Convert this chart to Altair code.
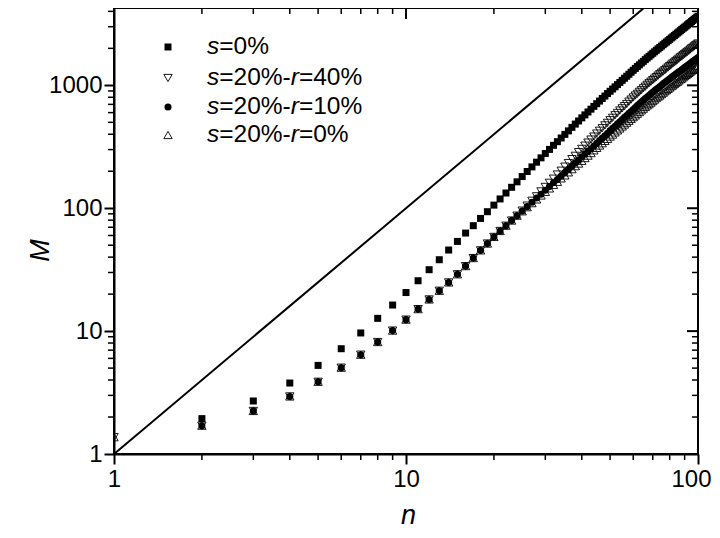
import altair as alt
import pandas as pd

# ---------------- data ----------------
n_from2 = list(range(2, 101))
n_from1 = list(range(1, 101))

m_s0 = [1.94, 2.70, 3.78, 5.26, 7.19, 9.66, 12.7, 16.3, 20.6, 25.7, 31.6, 38.1,
        45.7, 53.7, 62.8, 72.1, 82.6, 93.7, 106, 119, 133, 148, 164, 181,
        199, 217, 237, 257, 279, 301, 325, 348, 373, 399, 426, 455, 484, 513, 544,
        575, 607, 640, 674, 709, 745, 782, 818, 857, 895,
        934, 973, 1014, 1056, 1098, 1142, 1186, 1231, 1278, 1325,
        1373, 1422, 1469, 1520, 1567, 1620, 1670, 1720, 1771, 1823,
        1875, 1928, 1982, 2032, 2087, 2143, 2200, 2251, 2309, 2368,
        2428, 2481, 2542, 2604, 2666, 2722, 2785, 2850, 2915, 2973,
        3039, 3106, 3174, 3234, 3303, 3373, 3444, 3505, 3577, 3650]

star_low = [1.70, 2.24, 2.94, 3.87, 5.04, 6.43, 8.15, 10.1, 12.4, 15.1, 18.1, 21.3,
            24.9, 29.0, 33.8, 39.3, 45.4, 51.6, 58.4, 65.3, 72.1, 79.4, 87.0]

m_r40 = [1.37] + star_low + [
    95.6, 105, 115, 125, 137, 149, 161, 174, 188, 202, 218, 233, 251, 267, 286, 304,
    323, 342, 362, 383, 405, 427, 448, 472, 495, 520,
    544, 571, 596, 624, 650, 677, 705, 737, 766, 796,
    826, 853, 885, 913, 946, 976, 1010, 1040, 1071, 1102,
    1134, 1166, 1199, 1232, 1266, 1294, 1328, 1363, 1398, 1434,
    1470, 1506, 1536, 1573, 1611, 1649, 1688, 1719, 1758, 1798,
    1838, 1871, 1911, 1953, 1995, 2028, 2070, 2113, 2146, 2190]

m_r10 = star_low + [
    95.0, 103, 112, 121, 130, 140, 150, 161, 171, 183, 195, 207, 220, 233, 246, 261,
    276, 291, 305, 321, 338, 356, 373, 389, 408, 428,
    447, 465, 486, 505, 526, 549, 569, 592, 613, 637,
    659, 684, 707, 733, 756, 780, 804, 828, 852, 877,
    902, 928, 949, 975, 1001, 1028, 1055, 1077, 1105, 1133,
    1155, 1183, 1206, 1235, 1257, 1287, 1309, 1340, 1362, 1393,
    1424, 1447, 1479, 1502, 1534, 1567, 1590, 1623, 1647, 1680]

m_r0 = [1.37] + star_low + [
    94.4, 102, 110, 118, 127, 136, 145, 155, 164, 175, 185, 196, 208, 220, 231, 243,
    256, 268, 281, 296, 310, 324, 338, 353, 367, 383,
    398, 414, 430, 446, 463, 480, 497, 515, 533, 551,
    569, 588, 607, 627, 646, 667, 687, 703, 724, 745,
    766, 788, 810, 827, 849, 872, 895, 913, 936, 960,
    984, 1002, 1026, 1051, 1069, 1095, 1120, 1138, 1164, 1191,
    1217, 1236, 1263, 1290, 1318, 1336, 1364, 1393, 1421, 1445]

line_n = [1, 100]
line_m = [1, 10000]

x_major = [1, 10, 100]
x_minor = [2, 3, 4, 5, 6, 7, 8, 9, 20, 30, 40, 50, 60, 70, 80, 90]
y_major = [1, 10, 100, 1000]
y_minor = [2, 3, 4, 5, 6, 7, 8, 9, 20, 30, 40, 50, 60, 70, 80, 90,
           200, 300, 400, 500, 600, 700, 800, 900, 2000, 3000, 4000]

legend_rows = [
    [("s", True), ("=0%", False)],
    [("s", True), ("=20%-", False), ("r", True), ("=40%", False)],
    [("s", True), ("=20%-", False), ("r", True), ("=10%", False)],
    [("s", True), ("=20%-", False), ("r", True), ("=0%", False)],
]

# ---------------- layout / style ----------------
W, H = 584, 446
FONT = "Liberation Sans"
xs = alt.Scale(type="log", domain=[1, 100], nice=False)
ys = alt.Scale(type="log", domain=[1, 4260], nice=False)

axis_common = dict(
    format="d", tickSize=10, tickWidth=2, tickColor="black",
    domainColor="black", domainWidth=2, labelFont=FONT, labelFontSize=24,
    labelColor="black", labelFlush=False, labelOverlap=False, grid=False,
    titleFont=FONT, titleFontSize=27, titleFontStyle="italic",
    titleFontWeight="normal", titleColor="black",
)
x_axis = alt.Axis(
    values=x_major, labelPadding=3, title="n",
    labelAlign={"condition": {"test": "datum.value >= 100", "value": "right"}, "value": "center"},
    labelOffset={"condition": {"test": "datum.value >= 100", "value": 13}, "value": 0},
    titleX=294, titleY=69, titleBaseline="alphabetic",
    titleAlign="center", **axis_common)
y_axis = alt.Axis(values=y_major, labelPadding=2, title="M", titleAngle=270,
                  titleX=-66, titleY=242, titleBaseline="alphabetic",
                  titleAlign="center", **axis_common)

X = lambda f: alt.X(f, type="quantitative", scale=xs, axis=x_axis)
Y = lambda f: alt.Y(f, type="quantitative", scale=ys, axis=y_axis)

layers = []

# reference line M = n^2
df_line = pd.DataFrame({"n": line_n, "M": line_m})
layers.append(
    alt.Chart(df_line).mark_line(color="black", strokeWidth=2, clip=True).encode(
        x=X("n"), y=Y("M"))
)

def pts(ns, ms, shape, filled, size, stroke_w=1.0):
    df = pd.DataFrame({"n": ns, "M": ms})
    return alt.Chart(df).mark_point(
        shape=shape, filled=filled, size=size, color="black", opacity=1,
        strokeWidth=stroke_w, clip=True,
    ).encode(x=X("n"), y=Y("M"))

layers.append(pts(n_from2, m_s0, "square", True, 49))
layers.append(pts(n_from1, m_r40, "triangle-down", False, 70, 0.9))
layers.append(pts(n_from2, m_r10, "circle", True, 50))
layers.append(pts(n_from1, m_r0, "triangle-up", False, 70, 0.9))

# minor / mirrored ticks
def xrule(vals, y0, y1, w):
    return alt.Chart(pd.DataFrame({"n": vals})).mark_rule(color="black", strokeWidth=w).encode(
        x=X("n"), y=alt.value(y0), y2=alt.value(y1))

def yrule(vals, x0, x1, w):
    return alt.Chart(pd.DataFrame({"M": vals})).mark_rule(color="black", strokeWidth=w).encode(
        y=Y("M"), x=alt.value(x0), x2=alt.value(x1))

layers.append(xrule(x_minor, H, H + 6, 1.5))
layers.append(xrule(x_major, 0, 11, 2))
layers.append(xrule(x_minor, 0, 6, 1.5))
layers.append(yrule(y_minor, -6, 0, 1.5))
layers.append(yrule(y_major, W - 11, W, 2))
layers.append(yrule(y_minor, W - 6, W, 1.5))

# legend (symbol + text with italic letters)
LEG_FS = 24.5
char_w = {"s": 0.5, "r": 0.333, "=": 0.584, "%": 0.889, "-": 0.333,
          "0": 0.556, "1": 0.556, "2": 0.556, "4": 0.556}
row_y = [39, 70, 99, 127]
sym_x, text_x = 54, 93
sym_specs = [("square", True, 49), ("triangle-down", False, 70),
             ("circle", True, 50), ("triangle-up", False, 70)]
for (shape, filled, size), yy, segs in zip(sym_specs, row_y, legend_rows):
    layers.append(
        alt.Chart().mark_point(shape=shape, filled=filled, size=size, color="black",
                               opacity=1, strokeWidth=0.9).encode(
            x=alt.value(sym_x), y=alt.value(yy))
    )
    cx = text_x
    for txt, ital in segs:
        layers.append(
            alt.Chart().mark_text(text=txt, font=FONT, fontSize=LEG_FS,
                                  fontStyle="italic" if ital else "normal",
                                  align="left", baseline="middle", color="black").encode(
                x=alt.value(cx), y=alt.value(yy))
        )
        cx += sum(char_w.get(c, 0.556) for c in txt) * LEG_FS

chart = alt.layer(*layers).properties(
    width=W, height=H,
    autosize=alt.AutoSizeParams(type="none"),
    padding={"left": 106, "top": 0, "right": 14, "bottom": 76},
).configure_view(stroke="black", strokeWidth=2)

chart.save("out.html", embed_options={"renderer": "svg", "actions": False})
